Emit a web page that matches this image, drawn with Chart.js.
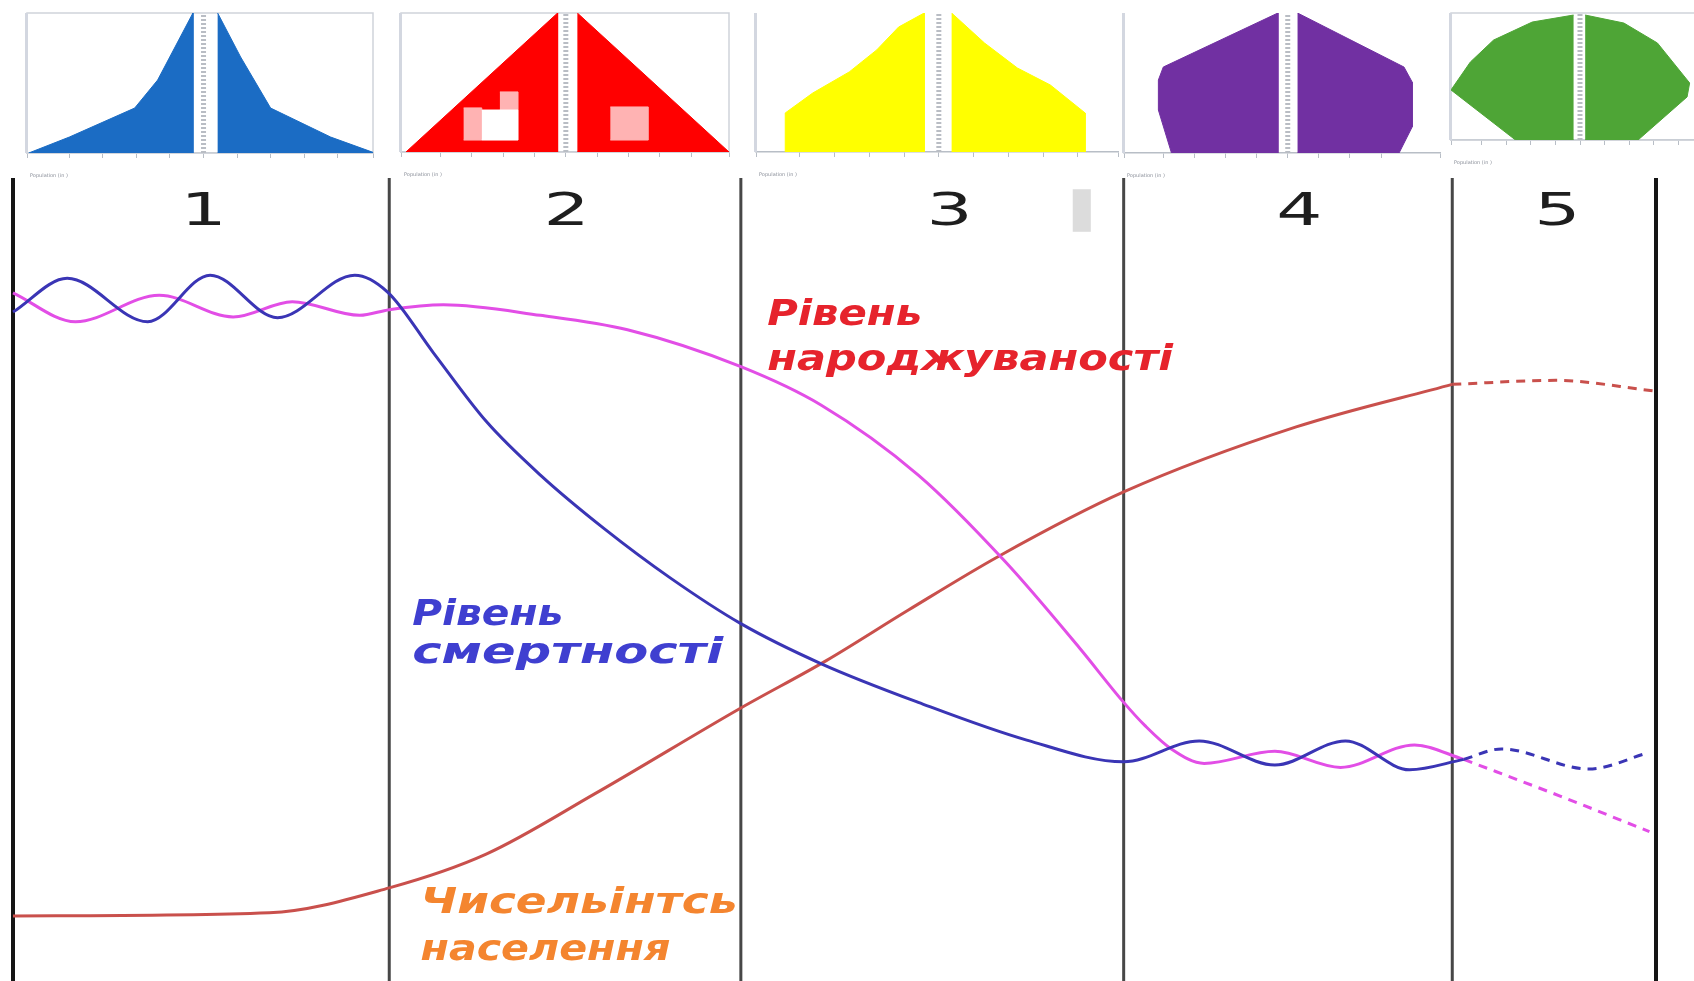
<!DOCTYPE html>
<html lang="uk">
<head>
<meta charset="utf-8">
<title>Демографічний перехід</title>
<script src="https://cdn.jsdelivr.net/npm/chart.js@4.4.1/dist/chart.umd.min.js"></script>
<style>
  html, body { margin: 0; padding: 0; background: #fff; }
  #page { position: relative; width: 1694px; height: 981px; overflow: hidden; background: #fff; }
  #page canvas { position: absolute; }
</style>
</head>
<body>
<div id="page">
  <canvas id="mainChart" width="1694" height="803" style="left:0;top:178px"></canvas>
</div>
<script>
// Stages of the demographic transition (x: time, 0..100; y: level, 0..100)
const stageBounds = [0, 22.9, 44.3, 67.6, 87.6, 100];
const stageNames = ["1", "2", "3", "4", "5"];

// Death rate
const deathX = [0, 3.3, 8.2, 12.0, 16.1, 20.8, 22.8, 25.6, 28.8, 32.1, 36.0, 40.0, 44.3, 49.2, 55.1, 61.7, 67.6, 72.2, 76.8, 81.1, 85.0, 88.3];
const deathY = [83.3, 87.5, 82.1, 87.9, 82.6, 87.9, 85.8, 78.2, 69.7, 63.0, 56.3, 50.2, 44.5, 39.5, 34.7, 30.0, 27.3, 29.9, 26.9, 29.9, 26.3, 27.6];
const deathFutureX = [88.3, 90.6, 95.9, 99.5];
const deathFutureY = [27.6, 28.9, 26.4, 28.4];

// Birth rate
const birthX = [0, 3.8, 8.9, 13.4, 17.0, 21.1, 22.9, 26.2, 32.1, 37.4, 44.3, 49.2, 55.1, 60.4, 64.9, 67.6, 68.9, 70.5, 72.5, 76.8, 80.8, 85.3, 88.3];
const birthY = [85.7, 82.1, 85.4, 82.7, 84.6, 82.9, 83.6, 84.2, 82.9, 81.1, 76.5, 71.7, 63.0, 52.2, 41.5, 34.7, 31.8, 28.9, 27.1, 28.6, 26.6, 29.4, 27.6];
const birthFutureX = [88.3, 94.2, 99.6];
const birthFutureY = [27.6, 23.0, 18.6];

// Population size
const popX = [0, 15.6, 22.9, 28.8, 35.4, 44.3, 49.5, 54.5, 60.0, 67.6, 78.1, 87.6];
const popY = [8.1, 8.5, 11.6, 15.8, 23.3, 34.0, 39.9, 46.2, 52.9, 60.9, 69.0, 74.3];
const popFutureX = [87.6, 93.9, 99.8];
const popFutureY = [74.3, 74.8, 73.5];

// Age pyramids: [population %, age %] outlines of each half
const pyr1Left = [[-9.9, 0], [-7.6, 11.4], [-3.9, 32.1], [-2.6, 52.1], [-0.6, 100], [-0.6, 0]];
const pyr1Right = [[0.8, 100], [2.1, 68.6], [3.8, 32.1], [7.2, 11.4], [9.7, 0], [0.8, 0]];
const pyr2Left = [[-9.7, 0], [-0.5, 100], [-0.5, 0]];
const pyr2Right = [[0.7, 100], [9.9, 0], [0.7, 0]];
const pyr3Left = [[-8.4, 0], [-8.4, 28.1], [-6.9, 42.4], [-4.9, 57.6], [-3.4, 73.4], [-2.2, 89.9], [-0.8, 100], [-0.8, 0]];
const pyr3Right = [[0.7, 100], [2.5, 78.4], [4.3, 60.4], [6.1, 48.2], [8.0, 28.1], [8.0, 0], [0.7, 0]];
const pyr4Left = [[-7.1, 0], [-7.9, 30.7], [-7.9, 52.1], [-7.6, 61.4], [-0.6, 100], [-0.6, 0]];
const pyr4Right = [[0.6, 100], [7.1, 61.4], [7.6, 50.7], [7.6, 18.6], [6.8, 0], [0.6, 0]];
const pyr5Left = [[-0.5, 98.4], [-3.7, 92.9], [-6.7, 78.7], [-8.5, 61.4], [-10, 39.4], [-5.0, 0], [-0.5, 0]];
const pyr5Right = [[0.4, 98.4], [3.4, 92.1], [6.0, 76.4], [8.5, 44.9], [8.3, 33.9], [4.5, 0], [0.4, 0]];
// pale blocks on the stage-2 pyramid
const pyr2PatchPink = [[[-6.2, 8.6], [-5.1, 8.6], [-5.1, 31.7], [-6.2, 31.7]], [[-4.0, 30.2], [-2.9, 30.2], [-2.9, 43.2], [-4.0, 43.2]], [[2.7, 8.6], [5.0, 8.6], [5.0, 32.4], [2.7, 32.4]]];
const pyr2PatchWhite = [[[-5.1, 8.6], [-2.9, 8.6], [-2.9, 30.2], [-5.1, 30.2]]];

const FONT = '"DejaVu Sans", Verdana, sans-serif';

function toPoints(pairs) {
    return pairs.map((p) => ({ x: p[0], y: p[1] }));
}

function shape(pairs, color) {
    return {
        data: toPoints(pairs),
        showLine: true,
        fill: "shape",
        backgroundColor: color,
        borderColor: color,
        borderWidth: 1,
        pointRadius: 0,
        tension: 0,
    };
}

// ---------- pyramids ----------
const pyramids = [
    { left: pyr1Left, right: pyr1Right, color: "#1b6cc4", box: [27, 373, 13, 153], xMin: -10, xMax: 9.6, closed: true },
    { left: pyr2Left, right: pyr2Right, color: "#ff0000", box: [401, 729, 13, 152], xMin: -10, xMax: 9.9, closed: true },
    { left: pyr3Left, right: pyr3Right, color: "#ffff00", box: [756, 1118, 13, 152], xMin: -10, xMax: 9.8, closed: false },
    { left: pyr4Left, right: pyr4Right, color: "#7130a2", box: [1124, 1440, 13, 153], xMin: -10, xMax: 9.3, closed: false },
    { left: pyr5Left, right: pyr5Right, color: "#4ea536", box: [1451, 1709, 13, 140], xMin: -10, xMax: 10, closed: true },
];

const framePlugin = {
    id: "frame",
    beforeDatasetsDraw(chart, args, opts) {
        const { ctx, chartArea: a } = chart;
        ctx.save();
        ctx.strokeStyle = "#cfd3da";
        ctx.lineWidth = 1.5;
        if (opts.closed) {
            ctx.strokeRect(a.left, a.top, a.right - a.left, a.bottom - a.top);
        }
        ctx.fillStyle = "#d3d7e0";
        ctx.fillRect(a.left - 2, a.top, 3, a.bottom - a.top);
        ctx.restore();
    },
    afterDraw(chart) {
        const { ctx, chartArea: a } = chart;
        ctx.save();
        ctx.fillStyle = "#8a8f99";
        ctx.font = "5px " + FONT;
        ctx.textBaseline = "alphabetic";
        ctx.fillText("Population (in )", a.left + 3, a.bottom + 24);
        ctx.restore();
    },
};

const page = document.getElementById("page");
pyramids.forEach((p, i) => {
    const [L, R, T, B] = p.box;
    const canvas = document.createElement("canvas");
    canvas.width = R - L + 6;
    canvas.height = B - T + 32;
    canvas.style.left = L - 3 + "px";
    canvas.style.top = T - 2 + "px";
    page.appendChild(canvas);

    const datasets = [];
    if (i === 1) {
        pyr2PatchWhite.forEach((r) => datasets.push(shape(r, "#ffffff")));
        pyr2PatchPink.forEach((r) => datasets.push(shape(r, "#ffb3b3")));
    }
    datasets.push(shape(p.left, p.color), shape(p.right, p.color));
    datasets.push({
        data: [{ x: 0, y: 0 }, { x: 0, y: 100 }],
        showLine: true,
        borderColor: "#b9bdc4",
        borderWidth: 5,
        borderDash: [2, 2],
        pointRadius: 0,
    });

    new Chart(canvas.getContext("2d"), {
        type: "scatter",
        data: { datasets },
        options: {
            responsive: false,
            animation: false,
            devicePixelRatio: 1,
            events: [],
            layout: { padding: { left: 3, right: 3, top: 2, bottom: 25 } },
            plugins: { legend: { display: false }, tooltip: { enabled: false }, frame: { closed: p.closed } },
            scales: {
                x: {
                    type: "linear",
                    min: p.xMin,
                    max: p.xMax,
                    grid: { drawOnChartArea: false, tickLength: 5, color: "#b8bec6" },
                    border: { color: "#b8bec6", width: 1.5 },
                    ticks: { display: false, stepSize: 1.9 },
                },
                y: { min: 0, max: 100, display: false },
            },
        },
        plugins: [framePlugin],
    });
});

// ---------- main chart ----------
function curve(xs, ys, color, dashed) {
    return {
        data: xs.map((x, i) => ({ x: x, y: ys[i] })),
        showLine: true,
        borderColor: color,
        borderWidth: 3,
        borderDash: dashed ? [9, 7] : [],
        pointRadius: 0,
        cubicInterpolationMode: "monotone",
        fill: false,
        clip: false,
    };
}

const DEATH = "#3a35b5";
const BIRTH = "#e24ee6";
const POP = "#c9504c";

const dividerDatasets = stageBounds.map((b, i) => ({
    data: [{ x: b, y: 0 }, { x: b, y: 100 }],
    showLine: true,
    borderColor: i === 0 || i === stageBounds.length - 1 ? "#151515" : "#474747",
    borderWidth: i === 0 || i === stageBounds.length - 1 ? 4 : 3,
    pointRadius: 0,
    clip: false,
}));

// text placement (layout only)
const stageLabelPos = [[11.6, 94.1], [33.7, 94.1], [57.0, 94.1], [78.3, 94.1], [94.0, 94.1]];
const curveLabels = [
    { lines: ["Рівень", "народжуваності"], color: "#e6232c", x: 45.9, y: [81.7, 76.1], widths: [155, 406] },
    { lines: ["Рівень", "смертності"], color: "#3f3fd0", x: 24.3, y: [44.3, 39.6], widths: [151, 311] },
    { lines: ["Чисельінтсь", "населення"], color: "#f4852f", x: 24.8, y: [8.5, 2.6], widths: [317, 250] },
];

const textPlugin = {
    id: "stageText",
    afterDatasetsDraw(chart) {
        const { ctx, scales } = chart;
        const sx = scales.x, sy = scales.y;
        ctx.save();
        // scanning artefact
        ctx.fillStyle = "#dcdcdc";
        const ax = sx.getPixelForValue(64.5), ay = sy.getPixelForValue(98.6);
        ctx.fillRect(ax, ay, sx.getPixelForValue(65.6) - ax, sy.getPixelForValue(93.3) - ay);

        ctx.fillStyle = "#1e1e1e";
        ctx.font = "44px " + FONT;
        ctx.textAlign = "center";
        ctx.textBaseline = "alphabetic";
        stageNames.forEach((name, i) => {
            ctx.save();
            ctx.translate(sx.getPixelForValue(stageLabelPos[i][0]), sy.getPixelForValue(stageLabelPos[i][1]));
            ctx.scale(1.65, 1);
            ctx.fillText(name, 0, 0);
            ctx.restore();
        });

        ctx.textAlign = "left";
        ctx.font = "italic bold 36px " + FONT;
        curveLabels.forEach((lab) => {
            ctx.fillStyle = lab.color;
            lab.lines.forEach((t, j) => {
                const w = ctx.measureText(t).width;
                ctx.save();
                ctx.translate(sx.getPixelForValue(lab.x), sy.getPixelForValue(lab.y[j]));
                ctx.scale(lab.widths[j] / w, 1);
                ctx.fillText(t, 0, 0);
                ctx.restore();
            });
        });
        ctx.restore();
    },
};

new Chart(document.getElementById("mainChart").getContext("2d"), {
    type: "scatter",
    data: {
        datasets: [
            curve(deathX, deathY, DEATH, false),
            curve(birthX, birthY, BIRTH, false),
            curve(popX, popY, POP, false),
            curve(deathFutureX, deathFutureY, DEATH, true),
            curve(birthFutureX, birthFutureY, BIRTH, true),
            curve(popFutureX, popFutureY, POP, true),
        ].concat(dividerDatasets),
    },
    options: {
        responsive: false,
        animation: false,
        devicePixelRatio: 1,
        events: [],
        layout: { padding: { left: 13, right: 38, top: 0, bottom: 0 } },
        plugins: { legend: { display: false }, tooltip: { enabled: false } },
        scales: {
            x: { type: "linear", min: 0, max: 100, display: false },
            y: { min: 0, max: 100, display: false },
        },
    },
    plugins: [textPlugin],
});
</script>
</body>
</html>
